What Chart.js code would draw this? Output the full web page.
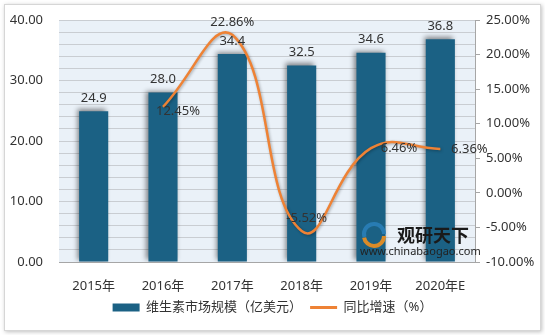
<!DOCTYPE html>
<html><head><meta charset="utf-8">
<script src="https://cdn.jsdelivr.net/npm/chart.js@4/dist/chart.umd.min.js"></script>
<style>
html,body{margin:0;padding:0;background:#fff;}
#wrap{position:absolute;left:4px;top:4px;width:535px;height:325px;border:1px solid #d6d6d6;box-shadow:1px 1px 4px rgba(0,0,0,0.25);background:#fff;}
canvas{position:absolute;left:0;top:0;}
</style></head>
<body>
<div id="wrap"><canvas id="c" width="535" height="325"></canvas></div>
<script>
const categories = ["2015年","2016年","2017年","2018年","2019年","2020年E"];
const marketSize = [24.9, 28.0, 34.4, 32.5, 34.6, 36.8];
const growthRate = [null, 12.45, 22.86, -5.52, 6.46, 6.36];
const barLabels = ["24.9","28.0","34.4","32.5","34.6","36.8"];
const seriesNames = ["维生素市场规模（亿美元）","同比增速（%）"];

const FONT = "'Noto Sans','Noto Sans CJK SC',sans-serif";
const BAR = '#1b6184';
const LINE = '#ee8235';
const TXT = '#333333';

const bgPlugin = {
  id:'bg',
  beforeDraw(chart){
    const {ctx, chartArea:a} = chart;
    ctx.save();
    ctx.fillStyle = '#eaf1f8';
    ctx.fillRect(a.left, a.top, a.right-a.left, a.bottom-a.top);
    ctx.restore();
  },
  beforeDatasetDraw(chart, args){
    const ctx = chart.ctx;
    ctx.save();
    if (args.index === 0){
      ctx.shadowColor='rgba(0,0,0,0.45)'; ctx.shadowBlur=5; ctx.shadowOffsetX=-2; ctx.shadowOffsetY=-2;
    } else {
      ctx.shadowColor='rgba(0,0,0,0.3)'; ctx.shadowBlur=3; ctx.shadowOffsetX=1; ctx.shadowOffsetY=1;
    }
  },
  afterDatasetDraw(chart){ chart.ctx.restore(); },
  afterDatasetsDraw(chart){
    const ctx = chart.ctx;
    ctx.save();
    ctx.save();
    ctx.globalAlpha = 0.9;
    ctx.lineWidth = 4;
    ctx.strokeStyle = '#2a7fb8';
    ctx.beginPath(); ctx.arc(369, 229, 10, Math.PI*0.9, Math.PI*2.0); ctx.stroke();
    ctx.strokeStyle = '#f0901e';
    ctx.beginPath(); ctx.arc(369, 231, 10, Math.PI*0.0, Math.PI*0.95); ctx.stroke();
    ctx.restore();
    ctx.fillStyle='#1a1a1a';
    ctx.font="bold 18px 'Noto Sans CJK SC',sans-serif";
    ctx.textAlign='left'; ctx.textBaseline='middle';
    ctx.fillText('观研天下', 392, 230);
    ctx.font='11px '+FONT;
    ctx.fillStyle='#222';
    ctx.fillText('www.chinabaogao.com', 355, 247);

    ctx.font = '13px ' + FONT;
    ctx.fillStyle = TXT;
    ctx.textAlign='center'; ctx.textBaseline='middle';
    chart.getDatasetMeta(0).data.forEach((el,i)=>{
      ctx.fillText(barLabels[i], el.x, el.y-13);
    });
    const offs = [null,[15,5],[0,-12],[5,-13],[28,0],[29,0]];
    chart.getDatasetMeta(1).data.forEach((el,i)=>{
      if (growthRate[i]===null) return;
      ctx.fillText(growthRate[i].toFixed(2)+'%', el.x+offs[i][0], el.y+offs[i][1]);
    });
    ctx.restore();
  }
};

new Chart(document.getElementById('c'), {
  data:{
    labels:categories,
    datasets:[
      {type:'bar', label:seriesNames[0], data:marketSize, backgroundColor:BAR, yAxisID:'y',
       barPercentage:0.42, categoryPercentage:1.0, order:2},
      {type:'line', label:seriesNames[1], data:growthRate, borderColor:LINE, backgroundColor:LINE,
       borderWidth:2.5, pointRadius:0, tension:0.45, yAxisID:'y1', spanGaps:false, order:1}
    ]
  },
  options:{
    responsive:false, animation:false,
    layout:{padding:{left:0,right:0,top:15,bottom:6}},
    plugins:{
      tooltip:{enabled:false},
      legend:{position:'bottom',
        labels:{font:{size:13,family:FONT}, color:TXT, usePointStyle:true, pointStyleWidth:27, boxHeight:8, padding:8,
          generateLabels(chart){
            const items = Chart.defaults.plugins.legend.labels.generateLabels(chart);
            items.sort((a,b)=>a.datasetIndex-b.datasetIndex);
            items.forEach(it=>{
              if (it.datasetIndex===0){ it.pointStyle='rect'; it.fillStyle=BAR; it.strokeStyle=BAR; }
              else { it.pointStyle='line'; it.strokeStyle=LINE; it.lineWidth=3; }
            });
            return items;
          }}}
    },
    scales:{
      x:{grid:{display:false}, border:{display:true,color:'#a6a6a6'},
         ticks:{font:{size:13,family:FONT}, color:TXT, padding:8},
         afterFit(s){ s.height = 31; }},
      y:{position:'left', min:0, max:40,
         ticks:{stepSize:2, autoSkip:false, font:{size:13,family:FONT}, color:TXT, padding:16,
           callback:v=> v%10===0 ? v.toFixed(2) : ''},
         grid:{color:'#c9cdd2', drawTicks:false, lineWidth:1}, border:{display:false},
         afterFit(s){ s.width = 54; s.paddingTop = 4; s.paddingBottom = 0; }},
      y1:{position:'right', min:-10, max:25,
         ticks:{stepSize:5, font:{size:13,family:FONT}, color:TXT, padding:6,
           callback:v=> v.toFixed(2)+'%'},
         grid:{drawOnChartArea:false, drawTicks:true, tickLength:5, color:'#a6a6a6'},
         border:{display:true,color:'#a6a6a6'},
         afterFit(s){ s.width = 65; s.paddingTop = 4; s.paddingBottom = 0; }}
    }
  },
  plugins:[bgPlugin]
});
</script>
</body></html>
